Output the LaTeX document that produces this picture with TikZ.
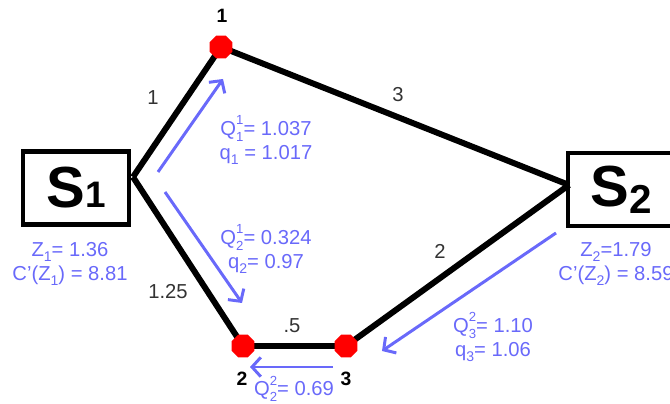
\documentclass[tikz,border=0pt]{standalone}
\usepackage{fontspec}
\setmainfont{Liberation Sans}
\usepackage{xcolor}
\usepackage{tikz}
\usetikzlibrary{
    positioning,
    arrows.meta,
    shapes.geometric,
}
\definecolor{flowblue}{RGB}{105,105,250}
\tikzset{
    % Node styles
    site/.style={rectangle, draw, line width=2.3pt, minimum width=2.12cm,
                 minimum height=1.46cm, inner sep=0pt, font=\bfseries\fontsize{33}{33}\selectfont},
    junction/.style={regular polygon, regular polygon sides=8, fill=red,
                     minimum size=14pt, inner sep=0pt},
    junction label/.style={font=\bfseries\fontsize{11}{13}\selectfont},
    % Edge styles
    pipe/.style={line width=3.4pt},
    cost/.style={font=\fontsize{11.5}{13}\selectfont, text=black!80},
    % Flow styles
    flow/.style={-{Straight Barb[length=5pt, width=11pt]}, line width=1.7pt, flowblue},
    annot/.style={font=\fontsize{11.5}{14}\selectfont, text=flowblue, align=center},
}
\newcommand{\flowsym}[3]{#1\rlap{\raisebox{1ex}{\fontsize{7.5}{7.5}\selectfont #2}}\raisebox{-0.55ex}{\fontsize{7.5}{7.5}\selectfont #3}}
\newcommand{\lowsub}[1]{\raisebox{-0.45ex}{\fontsize{8}{8}\selectfont #1}}

\begin{document}
\begin{tikzpicture}[x=0.02cm, y=-0.02cm]
    \useasboundingbox (0,0) rectangle (670,404);

    % Sources
    \node[site] (s1) at (76,188) {S\fontsize{21}{21}\selectfont 1};
    \node[site] (s2) at (621,189.5) {S\raisebox{-4pt}{\fontsize{23}{23}\selectfont 2}};
    \coordinate (s1tip) at (133,177);
    \coordinate (s2tip) at (569,185);

    % Junctions
    \coordinate (j1) at (221,47);
    \coordinate (j2) at (243,346);
    \coordinate (j3) at (346,346);

    % Pipes
    \draw[pipe] (s1tip) -- (j1);
    \draw[pipe] (s1tip) -- (j2);
    \draw[pipe] (j2) -- (j3);
    \draw[pipe] (j3) -- (s2tip);
    \draw[pipe] (j1) -- (s2tip);
    \node[junction] (n1) at (j1) {};
    \node[junction] (n2) at (j2) {};
    \node[junction] (n3) at (j3) {};
    \node[junction label] at (222,16) {1};
    \node[junction label] at (242,379) {2};
    \node[junction label] at (346,379) {3};

    % Costs
    \node[cost] at (153,98) {1};
    \node[cost] at (398,95) {3};
    \node[cost] at (168,292) {1.25};
    \node[cost] at (292,326) {.5};
    \node[cost] at (440,251) {2};

    % Flows
    \coordinate (f1a) at (158,172);
    \coordinate (f1b) at (223,79);
    \coordinate (f2a) at (165,192);
    \coordinate (f2b) at (242,303);
    \coordinate (f3a) at (333,367);
    \coordinate (f3b) at (250,367);
    \coordinate (f4a) at (556,233);
    \coordinate (f4b) at (382,351);
    \draw[flow] (f1a) -- (f1b);
    \draw[flow] (f2a) -- (f2b);
    \draw[flow] (f3a) -- (f3b);
    \draw[flow] (f4a) -- (f4b);

    % Annotations
    \node[annot] at (70,264) {Z\lowsub{1}= 1.36\\C'(Z\lowsub{1}) = 8.81};
    \node[annot] at (616,264) {Z\lowsub{2}=1.79\\C'(Z\lowsub{2}) = 8.59};
    \node[annot] at (266,140) {\flowsym{Q}{1}{1}= 1.037\\q\lowsub{1} = 1.017};
    \node[annot] at (266,249) {\flowsym{Q}{1}{2}= 0.324\\q\lowsub{2}= 0.97};
    \node[annot] at (294,389) {\flowsym{Q}{2}{2}= 0.69};
    \node[annot] at (493,337) {\flowsym{Q}{2}{3}= 1.10\\q\lowsub{3}= 1.06};
\end{tikzpicture}
\end{document}
